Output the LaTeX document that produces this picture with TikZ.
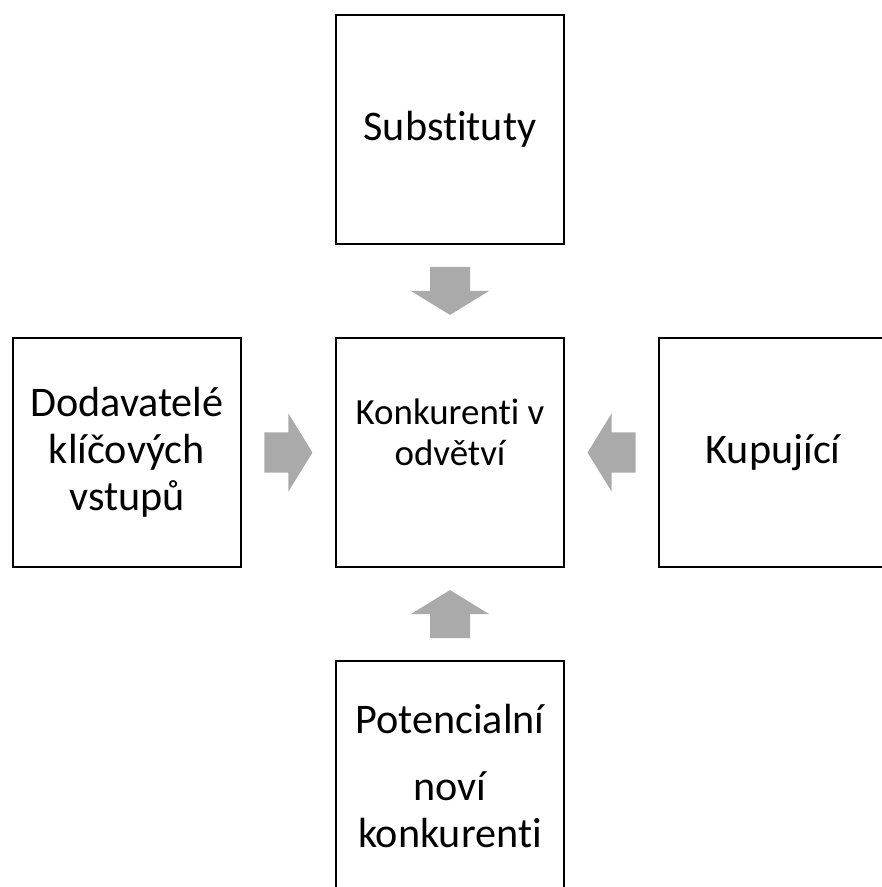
\documentclass[tikz,border=0pt]{standalone}
\usepackage{fontspec}
\setmainfont[Ligatures={NoCommon,NoContextual}]{Carlito}
\usetikzlibrary{positioning,calc}
\definecolor{sipkaseda}{HTML}{AAAAAA}
\tikzset{
    sila/.style={draw, line width=.6pt, minimum width=2.28cm, minimum height=2.29cm,
        align=center, font=\fontsize{12}{13.4}\selectfont},
    pics/tlak/.style={code={
        \fill[sipkaseda] (-.24,-.2) -- (0,-.2) -- (0,-.39) -- (.24,0) -- (0,.39) -- (0,.2) -- (-.24,.2) -- cycle;
    }}
}
\begin{document}
\begin{tikzpicture}
    \useasboundingbox (0,0) rectangle (8.81,-8.87);
    % stred a ctyri sily kolem
    \node[sila, font=\fontsize{10.5}{11.5}\selectfont] (konk) at (4.5,-4.525) {Konkurenti v\\odvětví\\\mbox{}};
    \node[sila, above=.92cm of konk] (subst) {Substituty};
    \node[sila, below=.92cm of konk] (novi) {Potencialní\\[.2cm]noví\\konkurenti};
    \node[sila, left=.93cm of konk] (dodav) {Dodavatelé\\klíčových\\vstupů};
    \node[sila, right=.93cm of konk] (kupuj) {Kupující};
    % sipky
    \pic[rotate=-90] at ($(subst.south)!.5!(konk.north)$) {tlak};
    \pic[rotate=90] at ($(novi.north)!.5!(konk.south)$) {tlak};
    \pic at ($(dodav.east)!.5!(konk.west)$) {tlak};
    \pic[rotate=180] at ($(kupuj.west)!.5!(konk.east)$) {tlak};
\end{tikzpicture}
\end{document}
